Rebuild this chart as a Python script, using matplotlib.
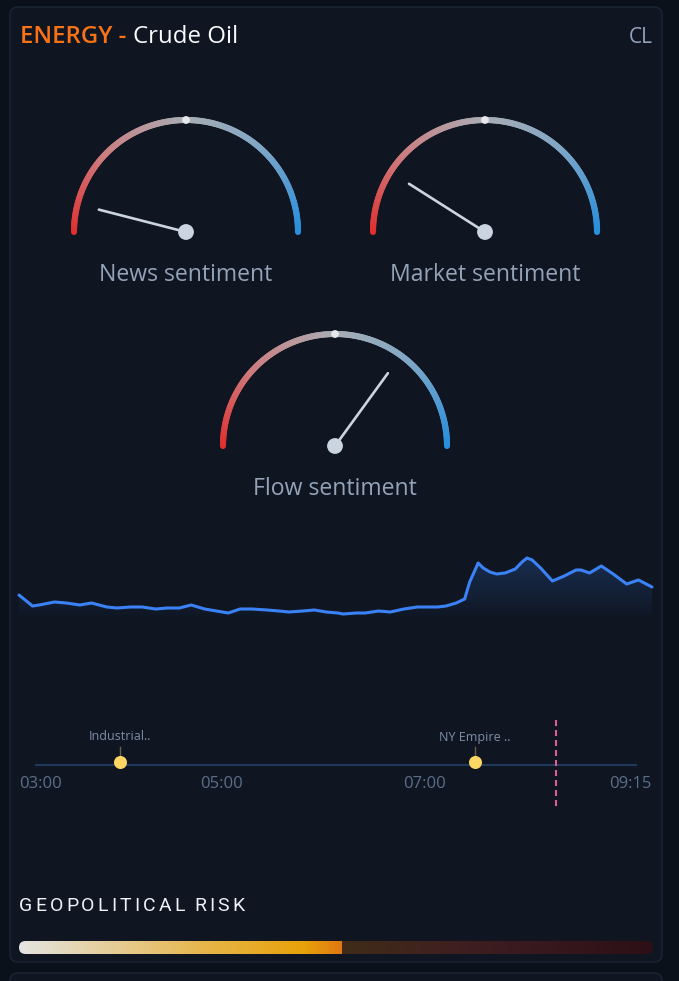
import numpy as np
import matplotlib
matplotlib.use("Agg")
import matplotlib.pyplot as plt
from matplotlib.collections import LineCollection
from matplotlib.colors import LinearSegmentedColormap, to_rgba
from matplotlib.patches import FancyBboxPatch, Circle, Polygon

# data
gauge_labels = ["News sentiment", "Market sentiment", "Flow sentiment"]
gauge_values = [-0.84, -0.64, 0.40]          # -1 bearish .. +1 bullish

# price path, minutes since 03:00
price_t = [0, 8, 12, 21, 28, 36, 43, 52, 58, 66, 73, 81, 88, 95, 102, 110, 117, 124, 131, 138,
           147, 154, 160, 168, 175, 182, 189, 192, 200, 205, 213, 220, 228, 236, 242, 248, 253, 259, 264, 267,
           272, 275, 279, 283, 288, 294, 298, 301, 304, 309, 316, 323, 330, 333, 338, 345, 352, 360, 367, 375]
price = [62.25, 62.14, 62.15, 62.18, 62.17, 62.15, 62.17, 62.13, 62.12, 62.13,
         62.13, 62.11, 62.12, 62.12, 62.15, 62.11, 62.09, 62.07, 62.11, 62.11,
         62.10, 62.09, 62.08, 62.09, 62.10, 62.08, 62.07, 62.06, 62.07, 62.07,
         62.09, 62.08, 62.11, 62.13, 62.13, 62.13, 62.14, 62.17, 62.21, 62.38,
         62.57, 62.52, 62.48, 62.46, 62.47, 62.51, 62.58, 62.62, 62.60, 62.52,
         62.39, 62.44, 62.50, 62.50, 62.47, 62.54, 62.46, 62.36, 62.40, 62.33]

tick_min = [0, 120, 240, 375]
tick_lbl = ["03:00", "05:00", "07:00", "09:15"]
event_t = [60, 270]
event_names = ["Industrial..", "NY Empire .."]
now_t = 318

risk = 51

# colours
BG = "#0b111a"
CARD = "#0f1622"
BORDER = "#1c2635"
MUTED = "#94a3b8"
NEEDLE = "#cbd5e1"
LINE = "#3b82f6"

W, H = 679, 981
plt.rcParams["font.family"] = ["Open Sans", "DejaVu Sans"]

fig = plt.figure(figsize=(W / 100, H / 100), dpi=100, facecolor=BG)


def frac(x0, y0, x1, y1):
    return [x0 / W, 1 - y1 / H, (x1 - x0) / W, (y1 - y0) / H]


bg = fig.add_axes([0, 0, 1, 1])
bg.set_xlim(0, W)
bg.set_ylim(H, 0)
bg.axis("off")

bg.add_patch(FancyBboxPatch((10, 7), 652, 955, boxstyle="round,pad=0,rounding_size=8",
                            fc=CARD, ec=BORDER, lw=1))
bg.add_patch(FancyBboxPatch((10, 973), 652, 40, boxstyle="round,pad=0,rounding_size=8",
                            fc=CARD, ec=BORDER, lw=1))

# header
t1 = bg.text(20, 43, "ENERGY -", color="#f97316", fontsize=17.3, va="baseline",
             weight="semibold")
bg.annotate("Crude Oil", xy=(1, 0), xycoords=t1, xytext=(5, 0), textcoords="offset points",
            color="#f8fafc", fontsize=17.3, va="bottom", weight="medium")
bg.text(653, 43, "CL", color=MUTED, fontsize=15, ha="right", va="baseline", weight="medium")

# gauges
arc_cmap = LinearSegmentedColormap.from_list(
    "arc", ["#e02f2f", "#cc7f82", "#a9adb3", "#7ea6c7", "#2b8fdc"])
R, L = 112, 90
centers = [(186, 232), (485, 232), (335, 446)]

for (cx, cy), val, lab in zip(centers, gauge_values, gauge_labels):
    th = np.linspace(np.pi, 0, 181)
    pts = np.column_stack([cx + R * np.cos(th), cy - R * np.sin(th)]).reshape(-1, 1, 2)
    segs = np.concatenate([pts[:-1], pts[1:]], axis=1)
    lc = LineCollection(segs, colors=arc_cmap(np.linspace(0, 1, len(segs))),
                        linewidths=4.4, capstyle="round")
    bg.add_collection(lc)
    bg.add_patch(Circle((cx, cy - R), 3.2, color="#e5e7eb", zorder=3))
    ang = np.pi / 2 - val * np.pi / 2
    bg.plot([cx, cx + L * np.cos(ang)], [cy, cy - L * np.sin(ang)], color=NEEDLE,
            lw=1.9, solid_capstyle="round", zorder=4)
    bg.add_patch(Circle((cx, cy), 7.2, color=NEEDLE, zorder=5))
    bg.text(cx, cy + 49, lab, ha="center", va="baseline", fontsize=16.6, color=MUTED)

# price line
ax = fig.add_axes(frac(19, 540, 652, 620))
ax.patch.set_alpha(0)
poly = Polygon(list(zip(price_t, price)) + [(price_t[-1], 62.0), (price_t[0], 62.0)],
               closed=True, fc="none", ec="none")
ax.add_patch(poly)
grad = np.zeros((100, 1, 4))
grad[..., :3] = to_rgba(LINE)[:3]
grad[..., 3] = np.linspace(0.0, 0.22, 100)[:, None]
im = ax.imshow(grad, extent=[0, 375, 62.0, max(price)], origin="lower", aspect="auto", zorder=1)
im.set_clip_path(poly)
ax.plot(price_t, price, color=LINE, lw=2.2, solid_joinstyle="round", solid_capstyle="round",
        zorder=2, clip_on=False)
ax.set_xlim(0, 375)
ax.set_ylim(62.0, 62.8)
ax.axis("off")

# event timeline
tl = fig.add_axes(frac(19, 715, 652, 773))
tl.patch.set_alpha(0)
tl.set_xlim(0, 375)
tl.set_ylim(773, 715)
for s in tl.spines.values():
    s.set_visible(False)
tl.set_yticks([])
tl.set_xticks(tick_min)
tl.set_xticklabels(tick_lbl)
tl.tick_params(axis="x", length=0, pad=2.5, labelsize=12, labelcolor="#5b6e89")
lbls = tl.get_xticklabels()
lbls[0].set_ha("left")
lbls[-1].set_ha("right")
tl.axhline(765, xmin=17 / 633, xmax=617 / 633, color="#1f3a5c", lw=1.5, zorder=1)
for t, name in zip(event_t, event_names):
    tl.plot([t, t], [747, 756], color="#6b5f45", lw=1, zorder=2)
    tl.scatter([t], [762], s=88, color="#fdd663", zorder=3, clip_on=False, linewidths=0)
    tl.text(t, 737, name, ha="center", va="center", fontsize=9, color="#7d8ea6")
tl.plot([now_t, now_t], [720, 808], color="#e05d94", lw=1.5, ls=(0, (2.9, 1.9)),
        clip_on=False, zorder=4)

# geopolitical risk
fig.canvas.draw()
rend = fig.canvas.get_renderer()
x = 19
for ch in "GEOPOLITICAL RISK":
    if ch == " ":
        x += 6.5
        continue
    t = bg.text(x, 906, ch, fontsize=14, color="#eef2f7", va="center",
                family=["Roboto", "DejaVu Sans"])
    x += t.get_window_extent(rend).width + 3.1

rb = fig.add_axes(frac(19, 941, 653, 954))
rb.set_xlim(0, 100)
rb.set_ylim(0, 100 * 13 / 634)
rb.axis("off")
hh = 100 * 13 / 634
box = FancyBboxPatch((0, 0), 100, hh, boxstyle="round,pad=0,rounding_size=%f" % (hh / 2),
                     fc="none", ec="none")
rb.add_patch(box)
fill_cmap = LinearSegmentedColormap.from_list(
    "fill", [(0, "#e4e4e2"), (0.3, "#e6cc94"), (0.6, "#e6b444"), (0.88, "#e8a20a"), (1, "#df7812")])
rest_cmap = LinearSegmentedColormap.from_list(
    "rest", [(0, "#402c18"), (0.4, "#3f1e21"), (1, "#2c1016")])
g = np.linspace(0, 1, 256)[None, :]
im1 = rb.imshow(g, cmap=fill_cmap, extent=[0, risk, 0, hh], aspect="auto")
im2 = rb.imshow(g, cmap=rest_cmap, extent=[risk, 100, 0, hh], aspect="auto")
im1.set_clip_path(box)
im2.set_clip_path(box)
rb.set_xlim(0, 100)
rb.set_ylim(0, hh)

fig.savefig("out.png", dpi=100, facecolor=BG)
